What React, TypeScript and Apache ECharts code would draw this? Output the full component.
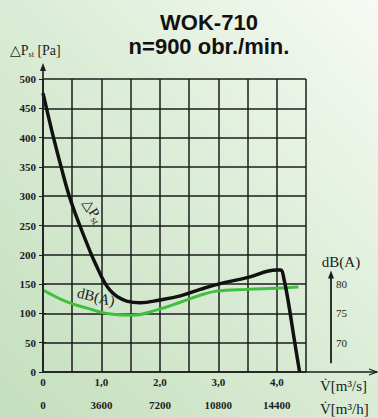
import React, { useEffect, useRef } from "react";
import * as echarts from "echarts";

// Flow rate axis (m³/s) and its label positions
const flowTicks = [0, 1, 2, 3, 4];
const hourFactor = 3600; // m³/s -> m³/h
const dbTicks = [70, 75, 80];

// Static pressure curve ΔPst [Pa] vs flow [m³/s]
const pressureFlow = [0.0, 0.06, 0.18, 0.31, 0.45, 0.63, 0.83, 0.92, 1.0, 1.09, 1.18, 1.28, 1.43, 1.66, 2.0, 2.35, 2.69, 3.0, 3.49, 4.0, 4.07, 4.12, 4.2, 4.3, 4.39];
const pressurePa = [476, 450, 400, 350, 300, 250, 200, 180, 163, 147, 136, 128, 121, 118, 123, 130, 141, 150, 161, 174, 174, 160, 118, 55, 0];

// Noise curve dB(A) vs flow [m³/s]
const noiseFlow = [0, 0.4, 0.75, 1.15, 1.54, 1.95, 2.35, 2.69, 2.97, 3.49, 4.0, 4.37];
const noiseDb = [79.0, 77.0, 75.9, 74.9, 74.7, 75.6, 76.9, 78.1, 78.8, 79.1, 79.3, 79.5];

const SERIF = "'Liberation Serif', 'DejaVu Serif', serif";
const SANS = "'Liberation Sans', Arial, sans-serif";
const INK = "#1c1c1c";

export default function App() {
  const ref = useRef<HTMLDivElement>(null);
  useEffect(() => {
    const chart = echarts.init(ref.current!, null, { renderer: "svg" });
    const option: any = {
      animation: false,
      backgroundColor: new echarts.graphic.LinearGradient(0, 1, 1, 0, [
        { offset: 0, color: "#c4dfbd" },
        { offset: 0.55, color: "#dcedd7" },
        { offset: 1, color: "#f7faf5" },
      ]),
      grid: { left: 43, top: 79, right: 72, bottom: 46, containLabel: false },
      xAxis: [
        {
          type: "value",
          min: 0,
          max: 4.5,
          interval: 0.5,
          axisLine: { show: false },
          axisTick: { show: false },
          splitLine: { show: true, lineStyle: { color: INK, width: 1.5 } },
          axisLabel: {
            customValues: flowTicks,
            margin: 4,
            color: INK,
            fontFamily: SERIF,
            fontWeight: "bold",
            fontSize: 11,
            formatter: (v: number) => (v === 0 ? "0" : v.toFixed(1).replace(".", ",")),
          },
        },
        {
          type: "value",
          position: "bottom",
          offset: 23,
          min: 0,
          max: 4.5,
          interval: 0.5,
          axisLine: { show: false },
          axisTick: { show: false },
          splitLine: { show: false },
          axisLabel: {
            customValues: flowTicks,
            margin: 4,
            color: INK,
            fontFamily: SERIF,
            fontWeight: "bold",
            fontSize: 11,
            formatter: (v: number) => String(Math.round(v * hourFactor)),
          },
        },
      ],
      yAxis: [
        {
          type: "value",
          min: 0,
          max: 500,
          interval: 50,
          axisLine: { show: false },
          axisTick: { show: true, length: 4, lineStyle: { color: INK, width: 1 } },
          splitLine: { show: true, lineStyle: { color: INK, width: 1.5 } },
          axisLabel: {
            margin: 7,
            color: INK,
            fontFamily: SERIF,
            fontWeight: "bold",
            fontSize: 11,
          },
        },
        {
          type: "value",
          position: "right",
          offset: 25,
          min: 65,
          max: 115,
          interval: 5,
          axisLine: { show: false },
          axisTick: { show: true, customValues: dbTicks, length: 3, lineStyle: { color: INK, width: 1 } },
          splitLine: { show: false },
          axisLabel: {
            customValues: dbTicks,
            margin: 5,
            color: INK,
            fontFamily: SERIF,
            fontSize: 11,
          },
        },
      ],
      series: [
        {
          name: "dB(A)",
          type: "line",
          xAxisIndex: 0,
          yAxisIndex: 1,
          data: noiseFlow.map((q, i) => [q, noiseDb[i]]),
          smooth: 0.4,
          showSymbol: false,
          lineStyle: { color: "#3fbf3f", width: 3 },
          z: 3,
        },
        {
          name: "ΔPst",
          type: "line",
          xAxisIndex: 0,
          yAxisIndex: 0,
          data: pressureFlow.map((q, i) => [q, pressurePa[i]]),
          smooth: 0.4,
          showSymbol: false,
          lineStyle: { color: "#111", width: 3.5 },
          z: 4,
        },
      ],
    };
    chart.setOption(option);

    const px = (q: number, pa: number) =>
      chart.convertToPixel({ xAxisIndex: 0, yAxisIndex: 0 }, [q, pa]) as number[];
    const [ox, oy] = px(0, 0);
    const [, topY] = px(0, 500);
    const [rx] = px(4.5, 0);
    const W = chart.getWidth();
    const dbX = rx + 25;
    const dbLow = chart.convertToPixel({ yAxisIndex: 1 }, 66.5) as number;
    const dbHigh = chart.convertToPixel({ yAxisIndex: 1 }, 82) as number;
    const yTip = topY - 16;
    const xTip = W - 1;

    const lineStyle = { stroke: INK, lineWidth: 1.6 };
    chart.setOption({
      graphic: [
        // main axes with arrows
        { type: "line", shape: { x1: ox, y1: oy, x2: ox, y2: yTip + 3 }, style: lineStyle, z: 10 },
        { type: "polygon", shape: { points: [[ox, yTip], [ox - 3, yTip + 8], [ox + 3, yTip + 8]] }, style: { fill: INK }, z: 10 },
        { type: "line", shape: { x1: ox, y1: oy, x2: xTip, y2: oy }, style: lineStyle, z: 10 },
        { type: "polyline", shape: { points: [[xTip - 8, oy - 3], [xTip, oy], [xTip - 8, oy + 3]] }, style: { stroke: INK, lineWidth: 1.2, fill: null }, z: 10 },
        // dB scale axis
        { type: "line", shape: { x1: dbX, y1: dbLow, x2: dbX, y2: dbHigh + 3 }, style: { stroke: INK, lineWidth: 1.8 }, z: 10 },
        { type: "polygon", shape: { points: [[dbX, dbHigh - 2], [dbX - 3, dbHigh + 6], [dbX + 3, dbHigh + 6]] }, style: { fill: INK }, z: 10 },
        { type: "text", x: dbX + 10, y: dbHigh - 10, style: { text: "dB(A)", fontFamily: SERIF, fontSize: 15, fill: INK, align: "center", verticalAlign: "middle" }, z: 10 },
        // titles
        { type: "text", x: 209, y: 22, style: { text: "WOK-710", fontFamily: SANS, fontWeight: "bold", fontSize: 22, fill: "#111", align: "center", verticalAlign: "middle" } },
        { type: "text", x: 209, y: 46, style: { text: "n=900 obr./min.", fontFamily: SANS, fontWeight: "bold", fontSize: 22, fill: "#111", align: "center", verticalAlign: "middle" } },
        // y-axis name
        {
          type: "text",
          x: 10,
          y: 50,
          style: {
            text: "{a|△P}{s|st}{a| [Pa]}",
            align: "left",
            verticalAlign: "middle",
            rich: {
              a: { fontFamily: SERIF, fontSize: 14, fill: INK },
              s: { fontFamily: SERIF, fontSize: 8, fill: INK, padding: [8, 0, 0, 0] },
            },
          },
        },
        // x-axis names
        { type: "text", x: 320, y: 386, style: { text: "V̇[m³/s]", fontFamily: SERIF, fontSize: 15, fill: INK, align: "left", verticalAlign: "middle" } },
        { type: "text", x: 320, y: 409, style: { text: "V̇[m³/h]", fontFamily: SERIF, fontSize: 15, fill: INK, align: "left", verticalAlign: "middle" } },
        // curve labels
        {
          type: "text",
          x: 93,
          y: 211,
          rotation: (-58 * Math.PI) / 180,
          style: {
            text: "{a|△P}{s|st}",
            align: "center",
            verticalAlign: "middle",
            rich: {
              a: { fontFamily: SERIF, fontSize: 14, fill: INK },
              s: { fontFamily: SERIF, fontSize: 10, fill: INK, padding: [7, 0, 0, 0] },
            },
          },
          z: 10,
        },
        {
          type: "text",
          x: 96,
          y: 297,
          rotation: (-14 * Math.PI) / 180,
          style: { text: "dB(A)", fontFamily: SERIF, fontSize: 15, fill: INK, align: "center", verticalAlign: "middle" },
          z: 10,
        },
      ],
    });

    return () => chart.dispose();
  }, []);
  return (
    <div
      ref={ref}
      style={{ position: "fixed", left: 0, top: 0, width: 378, height: 418 }}
    />
  );
}
